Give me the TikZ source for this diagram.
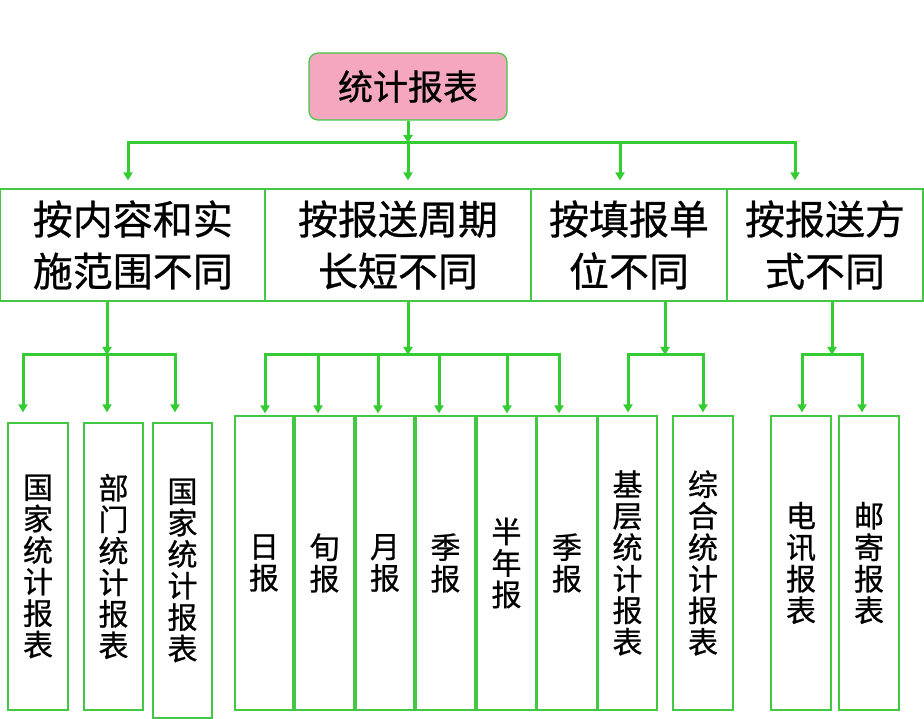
\documentclass[tikz,border=0pt]{standalone}
\usepackage{fontspec}
\newfontfamily\cjk[FakeBold=0.7]{Noto Sans CJK SC}
\usetikzlibrary{arrows.meta}
\definecolor{linkgreen}{HTML}{33CC33}
\definecolor{framegreen}{HTML}{44C844}
\definecolor{titlepink}{HTML}{F4A7BF}

\begin{document}
\begin{tikzpicture}[x=1pt,y=1pt]
	\tikzstyle{every node}+=[inner sep=0pt]
	\tikzstyle{frame}=[draw=framegreen, line width=1.2pt, align=center]
	\tikzstyle{branch}=[frame, minimum height=112pt, font=\cjk\fontsize{40}{52}\selectfont]
	\tikzstyle{leaf}=[frame, minimum width=59pt, minimum height=294pt, font=\cjk\fontsize{30}{31.5}\selectfont]
	\tikzstyle{link}=[draw=linkgreen, line width=3pt, -{Triangle[length=8pt,width=9pt]}]
	\useasboundingbox (0,0) rectangle (924,-719);
	\draw (408,-86.5) node[frame, rounded corners=9pt, fill=titlepink, minimum width=198pt, minimum height=67pt, font=\cjk\fontsize{35}{40}\selectfont] (root) {统计报表};
	\draw (132.8,-245) node[branch, minimum width=264.4pt] (s1) {按内容和实\\施范围不同};
	\draw (398,-245) node[branch, minimum width=266pt] (s2) {按报送周期\\长短不同};
	\draw (629,-245) node[branch, minimum width=196pt] (s3) {按填报单\\位不同};
	\draw (825,-245) node[branch, minimum width=196pt] (s4) {按报送方\\式不同};
	\draw (38,-566.5) node[leaf, minimum width=60pt, minimum height=287pt] (b1) {国\\家\\统\\计\\报\\表};
	\draw (113.5,-566.5) node[leaf, minimum height=287pt] (b2) {部\\门\\统\\计\\报\\表};
	\draw (182.5,-570.5) node[leaf, minimum height=295pt] (b3) {国\\家\\统\\计\\报\\表};
	\draw (264,-563) node[leaf, minimum width=58pt] (b4) {日\\报};
	\draw (324.5,-563) node[leaf] (b5) {旬\\报};
	\draw (385,-563) node[leaf, minimum width=58pt] (b6) {月\\报};
	\draw (445.5,-563) node[leaf] (b7) {季\\报};
	\draw (506.5,-563) node[leaf] (b8) {半\\年\\报};
	\draw (567,-563) node[leaf, minimum width=60pt] (b9) {季\\报};
	\draw (627.5,-563) node[leaf] (b10) {基\\层\\统\\计\\报\\表};
	\draw (703,-563) node[leaf, minimum width=60pt] (b11) {综\\合\\统\\计\\报\\表};
	\draw (801,-563) node[leaf, minimum width=60pt] (b12) {电\\讯\\报\\表};
	\draw (869,-563) node[leaf, minimum width=60pt] (b13) {邮\\寄\\报\\表};
	\coordinate (h0) at (408,-143);
	\coordinate (h1) at (107,-355);
	\coordinate (h2) at (408,-355);
	\coordinate (h3) at (665,-355);
	\coordinate (h4) at (832,-355);
	\draw [link] (root.south) -- (h0);
	\draw [link] (h0) -| ([xshift=-4.8pt,yshift=8pt]s1.north);
	\draw [link] (h0) -| ([xshift=10pt,yshift=8pt]s2.north);
	\draw [link] (h0) -| ([xshift=-9pt,yshift=8pt]s3.north);
	\draw [link] (h0) -| ([xshift=-30pt,yshift=8pt]s4.north);
	\draw [link] (s1.south -| h1) -- (h1);
	\draw [link] (s2.south -| h2) -- (h2);
	\draw [link] (s3.south -| h3) -- (h3);
	\draw [link] (s4.south -| h4) -- (h4);
	\draw [link] (h1) -| ([xshift=-15pt,yshift=10pt]b1.north);
	\draw [link] (h1) -| ([xshift=-6.5pt,yshift=10pt]b2.north);
	\draw [link] (h1) -| ([xshift=-7.5pt,yshift=10pt]b3.north);
	\draw [link] (h2) -| ([xshift=1pt,yshift=2pt]b4.north);
	\draw [link] (h2) -| ([xshift=-6.5pt,yshift=2pt]b5.north);
	\draw [link] (h2) -| ([xshift=-7pt,yshift=2pt]b6.north);
	\draw [link] (h2) -| ([xshift=-6.5pt,yshift=2pt]b7.north);
	\draw [link] (h2) -| ([xshift=0.5pt,yshift=2pt]b8.north);
	\draw [link] (h2) -| ([xshift=-8pt,yshift=2pt]b9.north);
	\draw [link] (h3) -| ([xshift=0.5pt,yshift=3pt]b10.north);
	\draw [link] (h3) -| ([yshift=3pt]b11.north);
	\draw [link] (h4) -| ([xshift=1pt,yshift=3pt]b12.north);
	\draw [link] (h4) -| ([xshift=-7pt,yshift=3pt]b13.north);
\end{tikzpicture}
\end{document}
